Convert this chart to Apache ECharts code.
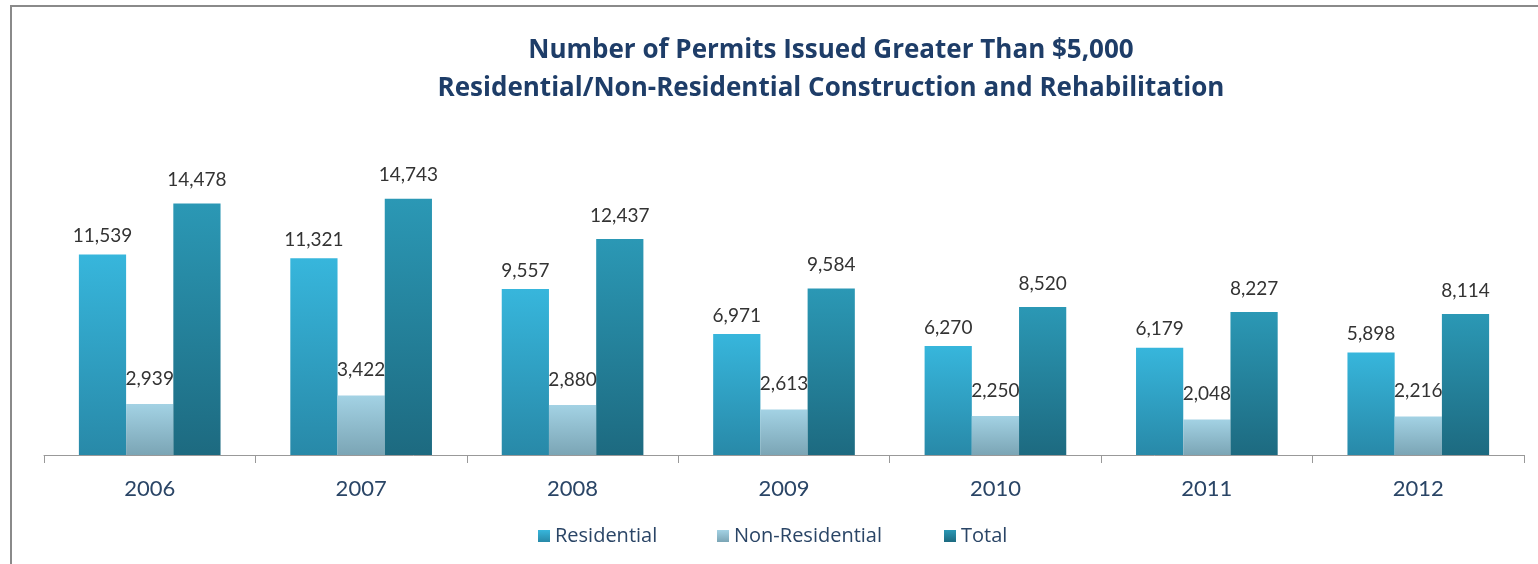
<!DOCTYPE html>
<html>
<head>
	<meta charset="utf-8">
	<title>Permits Issued</title>
	<script src="https://cdn.jsdelivr.net/npm/echarts@6/dist/echarts.min.js"></script>
	<style type="text/css">
		* {
			padding: 0;
			margin: 0;
		}
		body {
			background: #fff;
		}
		#chart {
			width: 1538px;
			height: 564px;
		}
	</style>
</head>
<body>
	<div id="chart"></div>
	<script type="text/javascript">
		var years = ['2006', '2007', '2008', '2009', '2010', '2011', '2012'];
		var residential = [11539, 11321, 9557, 6971, 6270, 6179, 5898];
		var nonResidential = [2939, 3422, 2880, 2613, 2250, 2048, 2216];
		var total = [14478, 14743, 12437, 9584, 8520, 8227, 8114];

		var font = 'Lato, "Open Sans", sans-serif';
		var wideFont = '"Open Sans", Lato, sans-serif';

		function grad(top, bottom) {
			return new echarts.graphic.LinearGradient(0, 0, 0, 1, [
				{offset: 0, color: top},
				{offset: 1, color: bottom}
			]);
		}

		function label(dist) {
			return {
				show: true,
				position: 'top',
				distance: dist,
				color: '#333',
				fontSize: 19,
				fontFamily: font,
				formatter: function (p) {
					return p.value.toLocaleString('en-US');
				}
			};
		}

		function legend(name, x) {
			return {
				data: [name],
				left: x,
				top: 521,
				icon: 'rect',
				itemWidth: 12,
				itemHeight: 12,
				itemGap: 0,
				textStyle: {
					color: '#2a4566',
					fontSize: 20,
					fontFamily: wideFont,
					padding: [0, 0, 0, 0]
				}
			};
		}

		var chart = echarts.init(document.getElementById('chart'));
		chart.setOption({
			animation: false,
			title: {
				text: 'Number of Permits Issued Greater Than $5,000\nResidential/Non-Residential Construction and Rehabilitation',
				left: 826,
				top: 27,
				textAlign: 'center',
				textStyle: {
					color: '#1e3d68',
					fontSize: 26,
					fontWeight: 'bold',
					fontFamily: wideFont,
					lineHeight: 38
				}
			},
			legend: [
				legend('Residential', 533),
				legend('Non-Residential', 712),
				legend('Total', 939)
			],
			grid: {
				left: 44,
				right: 14,
				top: 177,
				bottom: 109
			},
			xAxis: {
				type: 'category',
				data: years,
				axisLine: {lineStyle: {color: '#999', width: 1}},
				axisTick: {show: true, length: 8, lineStyle: {color: '#999'}},
				axisLabel: {
					color: '#2a4566',
					fontSize: 22,
					fontFamily: font,
					margin: 23
				}
			},
			yAxis: {
				type: 'value',
				min: 0,
				max: 16000,
				show: false
			},
			series: [
				{
					name: 'Residential',
					type: 'bar',
					data: residential,
					barGap: '0%',
					barCategoryGap: '33%',
					itemStyle: {color: grad('#37b6dc', '#2889a8')},
					label: label(9)
				},
				{
					name: 'Non-Residential',
					type: 'bar',
					data: nonResidential,
					itemStyle: {color: grad('#a3d2e4', '#7ba5b5')},
					label: label(16)
				},
				{
					name: 'Total',
					type: 'bar',
					data: total,
					itemStyle: {color: grad('#2b98b5', '#1d6a80')},
					label: label(14)
				}
			],
			graphic: [
				{
					type: 'line',
					shape: {x1: 11, y1: 6, x2: 11, y2: 564},
					style: {stroke: '#8a8a8a', lineWidth: 2}
				},
				{
					type: 'line',
					shape: {x1: 10, y1: 6, x2: 1538, y2: 6},
					style: {stroke: '#8a8a8a', lineWidth: 2}
				}
			]
		});
	</script>
</body>
</html>
